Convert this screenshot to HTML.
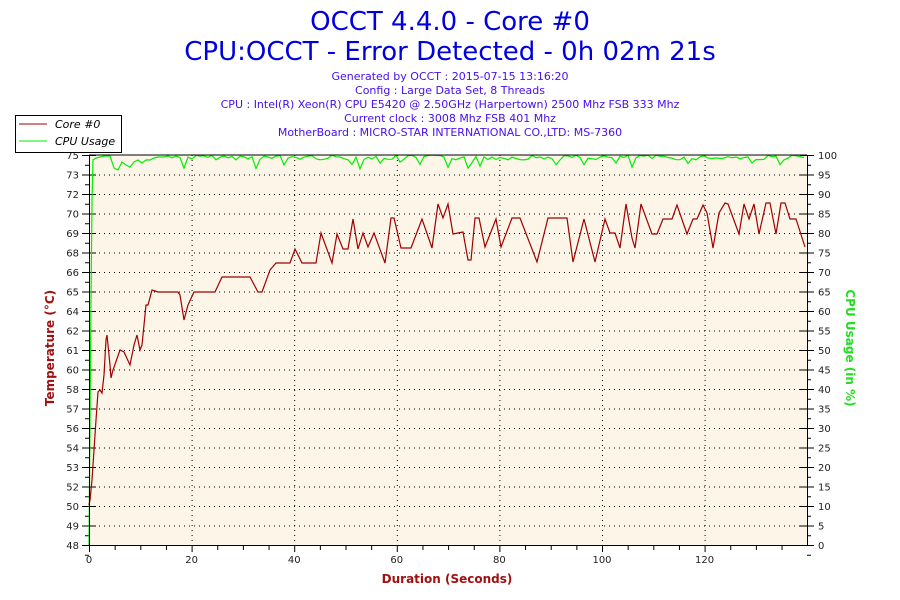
<!DOCTYPE html>
<html><head><meta charset="utf-8"><style>
html,body{margin:0;padding:0;background:#fff;}
svg{display:block;font-family:"DejaVu Sans","Liberation Sans",sans-serif;}
</style></head><body>
<svg id="s" width="900" height="600" viewBox="0 0 900 600" xmlns="http://www.w3.org/2000/svg">
<rect width="900" height="600" fill="#fff"/>
<text x="450" y="30" text-anchor="middle" font-size="26" fill="#0000dd">OCCT 4.4.0 - Core #0</text>
<text x="450" y="60" text-anchor="middle" font-size="26" fill="#0000dd">CPU:OCCT - Error Detected - 0h 02m 21s</text>
<g font-size="11" fill="#4a10f0" text-anchor="middle">
<text x="450" y="80">Generated by OCCT : 2015-07-15 13:16:20</text>
<text x="450" y="94">Config : Large Data Set, 8 Threads</text>
<text x="450" y="108">CPU : Intel(R) Xeon(R) CPU E5420 @ 2.50GHz (Harpertown) 2500 Mhz FSB 333 Mhz</text>
<text x="450" y="122">Current clock : 3008 Mhz FSB 401 Mhz</text>
<text x="450" y="136">MotherBoard : MICRO-STAR INTERNATIONAL CO.,LTD: MS-7360</text>
</g>
<rect x="89" y="155" width="718" height="390" fill="#fdf6e8"/>
<g id="grid" stroke="#000" stroke-width="1" stroke-dasharray="1,4"></g>
<g id="ticks" stroke="#000" stroke-width="1"></g>
<g id="labs" font-size="10" fill="#222"></g>
<polyline id="green" fill="none" stroke="#00ee00" stroke-width="1.2"/>
<polyline id="red" fill="none" stroke="#a00000" stroke-width="1.2"/>
<line x1="89" y1="155" x2="807" y2="155" stroke="#000"/>
<line x1="89.5" y1="155" x2="89.5" y2="545" stroke="#000"/>
<line x1="807.5" y1="155" x2="807.5" y2="545" stroke="#000"/>
<line x1="89" y1="545.5" x2="807" y2="545.5" stroke="#000"/>
<rect x="15.5" y="115.5" width="106" height="37" fill="#fff" stroke="#000"/>
<line x1="19" y1="124" x2="47" y2="124" stroke="#a00000"/>
<line x1="19" y1="141" x2="47" y2="141" stroke="#00ee00"/>
<text x="55" y="128" font-size="11" font-style="italic" fill="#000">Core #0</text>
<text x="55" y="145" font-size="11" font-style="italic" fill="#000">CPU Usage</text>
<text x="447" y="583" text-anchor="middle" font-size="12" font-weight="bold" fill="#a01010">Duration (Seconds)</text>
<text transform="translate(54,348) rotate(-90)" text-anchor="middle" font-size="12" font-weight="bold" fill="#a01010">Temperature (°C)</text>
<text transform="translate(846,348) rotate(90)" text-anchor="middle" font-size="12" font-weight="bold" fill="#22dd22">CPU Usage (in %)</text>
</svg>
<script>
var NS="http://www.w3.org/2000/svg";
function el(p,t,a,txt){var e=document.createElementNS(NS,t);for(var k in a)e.setAttribute(k,a[k]);if(txt!=null)e.textContent=txt;document.getElementById(p).appendChild(e);}
var L=[48,49,50,52,53,54,56,57,58,60,61,62,64,65,66,68,69,70,72,73,75];
for(var i=0;i<=20;i++){var y=545-i*19.5;
 if(i>0&&i<20)el("grid","line",{x1:89,y1:y+.5,x2:807,y2:y+.5});
 el("ticks","line",{x1:82,y1:y+.5,x2:96,y2:y+.5});
 el("ticks","line",{x1:800,y1:y+.5,x2:814,y2:y+.5});
 el("ticks","line",{x1:85,y1:y+10.25,x2:89,y2:y+10.25});
 el("ticks","line",{x1:807,y1:y+10.25,x2:811,y2:y+10.25});
 el("labs","text",{x:79,y:y+4,"text-anchor":"end"},L[i]);
 el("labs","text",{x:818,y:y+4},i*5);}
for(var s=0;s<=140;s+=5){var x=89+s*5.13;if(x>807)break;
 if(s%20==0){ if(s>0)el("grid","line",{x1:x+.5,y1:155,x2:x+.5,y2:545});
  el("ticks","line",{x1:x+.5,y1:545,x2:x+.5,y2:552});el("labs","text",{x:x,y:563,"text-anchor":"middle"},s);}
 else el("ticks","line",{x1:x+.5,y1:545,x2:x+.5,y2:550});}
var r=[[89,505],[90,500],[92,480],[94,450],[96,420],[98,392],[100,390],[102,393],[104,375],[106,340],[107,335],[108,345],[110,365],[111,378],[113,370],[120,350],[124,352],[130,365],[134,345],[137,335],[140,350],[142,345],[146,305],[148,305],[152,290],[158,292],[178,292],[180,295],[184,320],[188,305],[194,292],[215,292],[222,277],[250,277],[258,292],[262,292],[270,270],[276,263],[290,263],[295,249],[302,263],[316,263],[321,233],[332,263],[337,234],[343,249],[348,249],[353,219],[358,249],[363,233],[368,247],[374,233],[385,263],[391,218],[394,218],[401,248],[411,248],[422,219],[432,248],[438,204],[443,218],[448,204],[453,234],[463,232],[468,260],[471,260],[475,218],[479,218],[485,247],[496,219],[501,247],[512,218],[520,218],[537,262],[548,218],[567,218],[573,262],[584,219],[595,262],[605,219],[610,233],[615,233],[620,248],[626,204],[632,238],[635,248],[641,204],[652,234],[657,234],[663,219],[672,219],[677,205],[687,234],[693,219],[697,219],[703,205],[707,213],[713,248],[719,213],[725,203],[728,204],[739,234],[744,204],[749,219],[754,204],[759,234],[766,203],[770,203],[776,234],[781,203],[785,203],[790,219],[796,219],[805,247]];
document.getElementById("red").setAttribute("points",r.map(function(p){return p.join(",")}).join(" "));
var g=[[89,545],[90,420],[91,300],[92,200],[93,160],[96,158],[104,156],[110,156],[114,168],[118,170],[122,162],[126,165],[130,167],[134,162],[138,160],[142,163],[146,160],[150,160],[154,158],[158,157],[164,157],[168,156]];
var seed=7;function rnd(){seed=(seed*9301+49297)%233280;return seed/233280;}
for(var x=172;x<=807;x+=4){var v=rnd();var y=v<0.1?162+rnd()*7:155+rnd()*5;g.push([x,y.toFixed(1)]);}
document.getElementById("green").setAttribute("points",g.map(function(p){return p.join(",")}).join(" "));
</script>
</body></html>
